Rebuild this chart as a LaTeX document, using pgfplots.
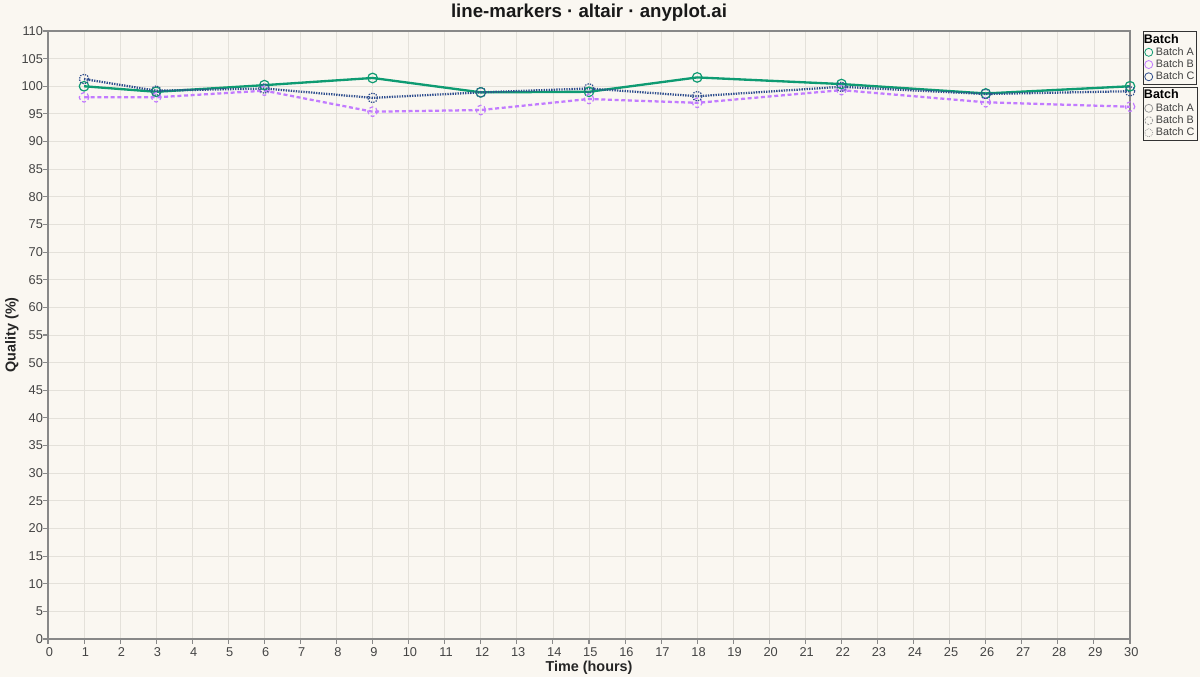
\documentclass[border=0pt]{standalone}
\usepackage{fontspec}
\setmainfont{Liberation Sans}
\usepackage{pgfplots}
\pgfplotsset{compat=1.18}
\definecolor{bg}{HTML}{FAF7F1}
\definecolor{cA}{HTML}{0E9B72}
\definecolor{cB}{HTML}{C27BFF}
\definecolor{cC}{HTML}{2F4E8E}
\definecolor{gridc}{HTML}{E4E1DA}
\definecolor{axc}{HTML}{888888}
\definecolor{tickc}{HTML}{444444}
\definecolor{legc}{HTML}{999999}
\pgfplotsset{
  legstyle/.style={
    legend cell align=left,
    legend image code/.code={\draw[##1] plot coordinates {(0.1cm,0cm)};},
    legend style={anchor=north west, draw=black!80, fill=bg, line width=0.6pt,
      font=\fontsize{8.1}{9}\selectfont, text=black!75, inner sep=1pt,
      row sep=0pt, nodes={inner sep=0.9pt},
      /tikz/every odd column/.append style={column sep=1.5pt}},
  },
}
\begin{document}
\begin{tikzpicture}
\fill[bg] (-36pt,-28.5pt) rectangle (864pt,479.25pt);
\begin{axis}[
  name=main, anchor=south west, scale only axis,
  width=811.5pt, height=456pt,
  xmin=0, xmax=30, ymin=0, ymax=110,
  xtick={0,...,30}, ytick={0,5,...,110},
  grid=major, major grid style={gridc, line width=0.6pt},
  axis line style={axc, line width=0.8pt},
  tick style={axc, line width=0.8pt}, tick align=outside, major tick length=3.75pt,
  xtick pos=bottom, ytick pos=left,
  ticklabel style={font=\fontsize{9.6}{11}\selectfont, text=tickc},
  xticklabel style={yshift=1pt, xshift=1pt},
  yticklabel style={xshift=3.5pt},
  /pgf/number format/assume math mode=true,
  xlabel={Time (hours)}, ylabel={Quality (\%)},
  label style={font=\bfseries\fontsize{10.8}{12}\selectfont, text=black!85},
  xlabel style={at={(axis description cs:0.5,-0.0444)}, anchor=center, yshift=-1.5pt},
  ylabel style={at={(axis description cs:-0.0333,0.5)}, anchor=center},
  every axis title shift=0pt,
  title={line-markers · altair · anyplot.ai},
  title style={at={(axis description cs:0.5,1)}, anchor=base, yshift=9.75pt,
    font=\bfseries\fontsize{14}{16}\selectfont, text=black!90},
  legstyle,
  legend style={at={(axis description cs:1,1)}, xshift=9.75pt},
]
\addplot[cA, line width=1.75pt, mark=o, mark size=3.6pt, mark options={line width=0.9pt}, forget plot]
  coordinates {(1,100.0)(3,99.0)(6,100.2)(9,101.5)(12,98.9)(15,99.0)(18,101.6)(22,100.4)(26,98.7)(30,100.0)};
\addplot[cB, line width=1.7pt, dash pattern=on 3pt off 2pt, mark=o, mark size=3.6pt, mark options={line width=0.9pt}, forget plot]
  coordinates {(1,98.0)(3,98.0)(6,99.2)(9,95.4)(12,95.7)(15,97.7)(18,97.0)(22,99.3)(26,97.1)(30,96.3)};
\addplot[cC, line width=1.7pt, dash pattern=on 1pt off 0.9pt, mark=o, mark size=3.6pt, mark options={line width=0.9pt}, forget plot]
  coordinates {(1,101.3)(3,99.2)(6,99.6)(9,97.9)(12,98.9)(15,99.6)(18,98.2)(22,99.9)(26,98.6)(30,99.1)};
\addlegendimage{empty legend}
\addlegendentry{\hspace{-9pt}\textbf{\color{black}\fontsize{9.4}{10}\selectfont Batch}}
\addlegendimage{cA, mark=o, mark size=3pt, line width=0.6pt}
\addlegendentry{Batch A}
\addlegendimage{cB, mark=o, mark size=3pt, line width=0.6pt}
\addlegendentry{Batch B}
\addlegendimage{cC, mark=o, mark size=3pt, line width=0.6pt}
\addlegendentry{Batch C}
\end{axis}
\begin{axis}[
  anchor=south west, scale only axis,
  width=811.5pt, height=456pt,
  xmin=0, xmax=30, ymin=0, ymax=110, hide axis,
  legstyle,
  legend style={at={(axis description cs:1,1)}, xshift=9.75pt, yshift=-42pt},
]
\addlegendimage{empty legend}
\addlegendentry{\hspace{-9pt}\textbf{\color{black}\fontsize{9.4}{10}\selectfont Batch}}
\addlegendimage{legc, mark=o, mark size=3pt, line width=0.6pt}
\addlegendentry{Batch A}
\addlegendimage{legc, mark=o, mark size=3pt, line width=0.6pt, dash pattern=on 1.5pt off 1pt}
\addlegendentry{Batch B}
\addlegendimage{legc, mark=o, mark size=3pt, line width=0.6pt, dash pattern=on 0.6pt off 0.8pt}
\addlegendentry{Batch C}
\end{axis}
\pgfresetboundingbox
\useasboundingbox (-36pt,-28.5pt) rectangle (864pt,479.25pt);
\end{tikzpicture}
\end{document}
